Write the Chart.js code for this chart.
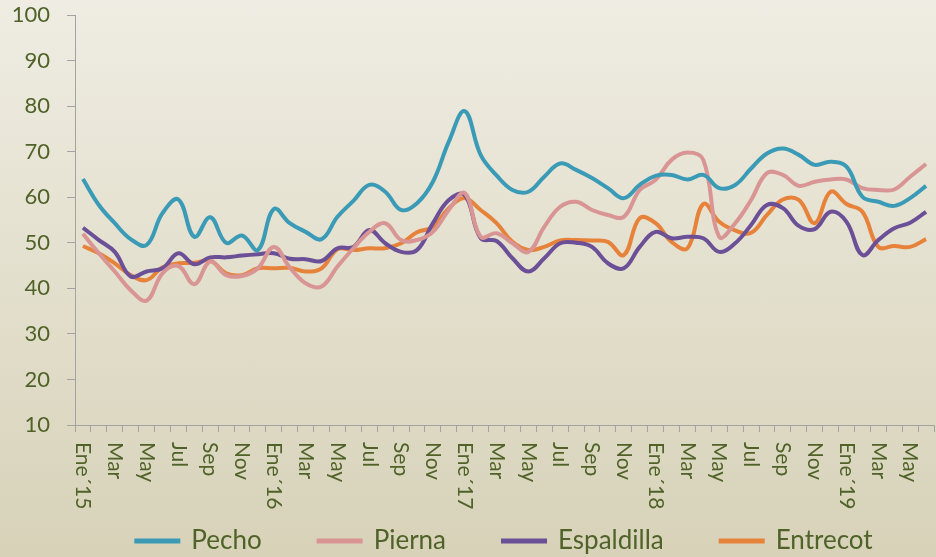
<!DOCTYPE html>
<html>
<head>
<meta charset="utf-8">
<script src="https://cdn.jsdelivr.net/npm/chart.js@4.4.1/dist/chart.umd.min.js"></script>
<style>
    html, body { margin: 0; padding: 0; width: 936px; height: 557px; overflow: hidden; }
    body { background: linear-gradient(#efede3, #d7d2b8); }
    canvas { display: block; }
</style>
</head>
<body>
<canvas id="precios" width="936" height="557"></canvas>
<script>
// Months Ene'15 -> Jun'19
const months = [
    'Ene´15', 'Feb', 'Mar', 'Abr', 'May', 'Jun', 'Jul', 'Ago', 'Sep', 'Oct', 'Nov', 'Dic',
    'Ene´16', 'Feb', 'Mar', 'Abr', 'May', 'Jun', 'Jul', 'Ago', 'Sep', 'Oct', 'Nov', 'Dic',
    'Ene´17', 'Feb', 'Mar', 'Abr', 'May', 'Jun', 'Jul', 'Ago', 'Sep', 'Oct', 'Nov', 'Dic',
    'Ene´18', 'Feb', 'Mar', 'Abr', 'May', 'Jun', 'Jul', 'Ago', 'Sep', 'Oct', 'Nov', 'Dic',
    'Ene´19', 'Feb', 'Mar', 'Abr', 'May', 'Jun'
];

const pecho = [
    64, 58.3, 54.3, 50.8, 49.5, 56.5, 59.5, 51.3, 55.6, 50, 51.6, 48.4,
    57.4, 54.3, 52.4, 50.8, 55.7, 59.2, 62.7, 61.2, 57.2, 58.7, 63.4, 72.2,
    78.9, 69.3, 64.8, 61.6, 61.2, 64.5, 67.4, 66, 64.2, 62, 59.8, 62.7,
    64.7, 64.9, 63.9, 64.9, 62, 62.7, 66.3, 69.6, 70.7, 69.3, 67.1, 67.8,
    66.7, 60.1, 59, 58.1, 59.8, 62.5
];

const pierna = [
    52, 47.7, 43.7, 39.6, 37.3, 43.3, 44.9, 40.9, 45.9, 42.9, 42.7, 44.4,
    49.1, 44.6, 41.1, 40.4, 44.8, 48.8, 52.4, 54.3, 50.6, 50.6, 52.4, 57.2,
    60.9, 51.3, 52.1, 49.9, 48, 53.5, 57.9, 59, 57.2, 56.1, 55.7, 61.6,
    63.8, 68.2, 69.8, 68.2, 51.3, 54.3, 59.4, 65.3, 64.9, 62.5, 63.4, 63.9,
    63.9, 62, 61.6, 61.7, 64.5, 67.3
];

const espaldilla = [
    53.3, 50.6, 48, 42.6, 43.7, 44.4, 47.7, 45.3, 46.8, 46.8, 47.2, 47.5,
    47.7, 46.5, 46.4, 46, 48.8, 49.1, 52.8, 49.9, 48, 48.4, 54.3, 59.4,
    60.5, 51, 50.4, 46.6, 43.7, 46.6, 49.9, 50, 49.1, 45.5, 44.4, 49.1,
    52.4, 51, 51.3, 51, 48, 49.9, 53.9, 58.3, 57.6, 53.7, 53, 56.8,
    54.6, 47.3, 50.6, 53.2, 54.4, 56.8
];

const entrecot = [
    49.3, 47.7, 45.5, 42.9, 41.8, 44.6, 45.5, 45.6, 46.1, 43.3, 42.9, 44.4,
    44.4, 44.5, 43.7, 44.4, 48.6, 48.4, 48.8, 48.8, 49.9, 52.3, 53.5, 57.6,
    59.8, 57.2, 54.3, 50.2, 48.4, 49.1, 50.5, 50.6, 50.5, 50.2, 47.3, 55.4,
    54.3, 50.2, 48.8, 58.5, 54.6, 52.7, 52.2, 56.1, 59.5, 59.4, 54.3, 61.2,
    58.5, 56.8, 49.1, 49.3, 49.1, 50.8
];

const textColor = '#4f6228';
const axisColor = '#a3a3a3';

function serie(label, data, color) {
    return {
        label: label,
        data: data,
        borderColor: color,
        backgroundColor: color,
        borderWidth: 4,
        tension: 0.4,
        pointRadius: 0,
        fill: false
    };
}

// x labels rotated clockwise, every other month
const xLabels = {
    id: 'xLabels',
    afterDraw(chart) {
        const ctx = chart.ctx;
        const xs = chart.scales.x;
        ctx.save();
        ctx.font = '21px Lato';
        ctx.fillStyle = textColor;
        ctx.textAlign = 'left';
        ctx.textBaseline = 'middle';
        months.forEach((m, i) => {
            if (i % 2) return;
            ctx.save();
            ctx.translate(xs.getPixelForValue(i), xs.top + 17);
            ctx.rotate(Math.PI / 2);
            ctx.fillText(m, 0, 0);
            ctx.restore();
        });
        ctx.restore();
    }
};

new Chart(document.getElementById('precios'), {
    type: 'line',
    data: {
        labels: months,
        datasets: [
            serie('Pecho', pecho, '#3b9bb6'),
            serie('Pierna', pierna, '#d89593'),
            serie('Espaldilla', espaldilla, '#6b4f97'),
            serie('Entrecot', entrecot, '#e7823a')
        ]
    },
    options: {
        responsive: false,
        animation: false,
        devicePixelRatio: 1,
        layout: {
            padding: { top: 15, right: 2, bottom: -7, left: 0 }
        },
        plugins: {
            tooltip: { enabled: false },
            legend: {
                position: 'bottom',
                fullSize: false,
                labels: {
                    color: textColor,
                    font: { family: 'Lato', size: 26 },
                    boxWidth: 42,
                    boxHeight: 1,
                    padding: 57
                }
            }
        },
        scales: {
            x: {
                type: 'category',
                offset: true,
                afterFit: (scale) => { scale.height = 46; },
                border: { display: true, color: axisColor, width: 1 },
                grid: {
                    offset: true,
                    drawOnChartArea: false,
                    color: axisColor,
                    tickLength: 7
                },
                ticks: { display: false }
            },
            y: {
                min: 10,
                max: 100,
                afterFit: (scale) => {
                    scale.width = 75;
                    // label padding would push the plot top down
                    scale.paddingTop = 0;
                    scale.paddingBottom = 0;
                },
                border: { display: true, color: axisColor, width: 1 },
                grid: {
                    drawOnChartArea: false,
                    color: axisColor,
                    tickLength: 8
                },
                ticks: {
                    stepSize: 10,
                    padding: 17,
                    color: textColor,
                    font: { family: 'Lato', size: 22 }
                }
            }
        }
    },
    plugins: [xLabels]
});
</script>
</body>
</html>
